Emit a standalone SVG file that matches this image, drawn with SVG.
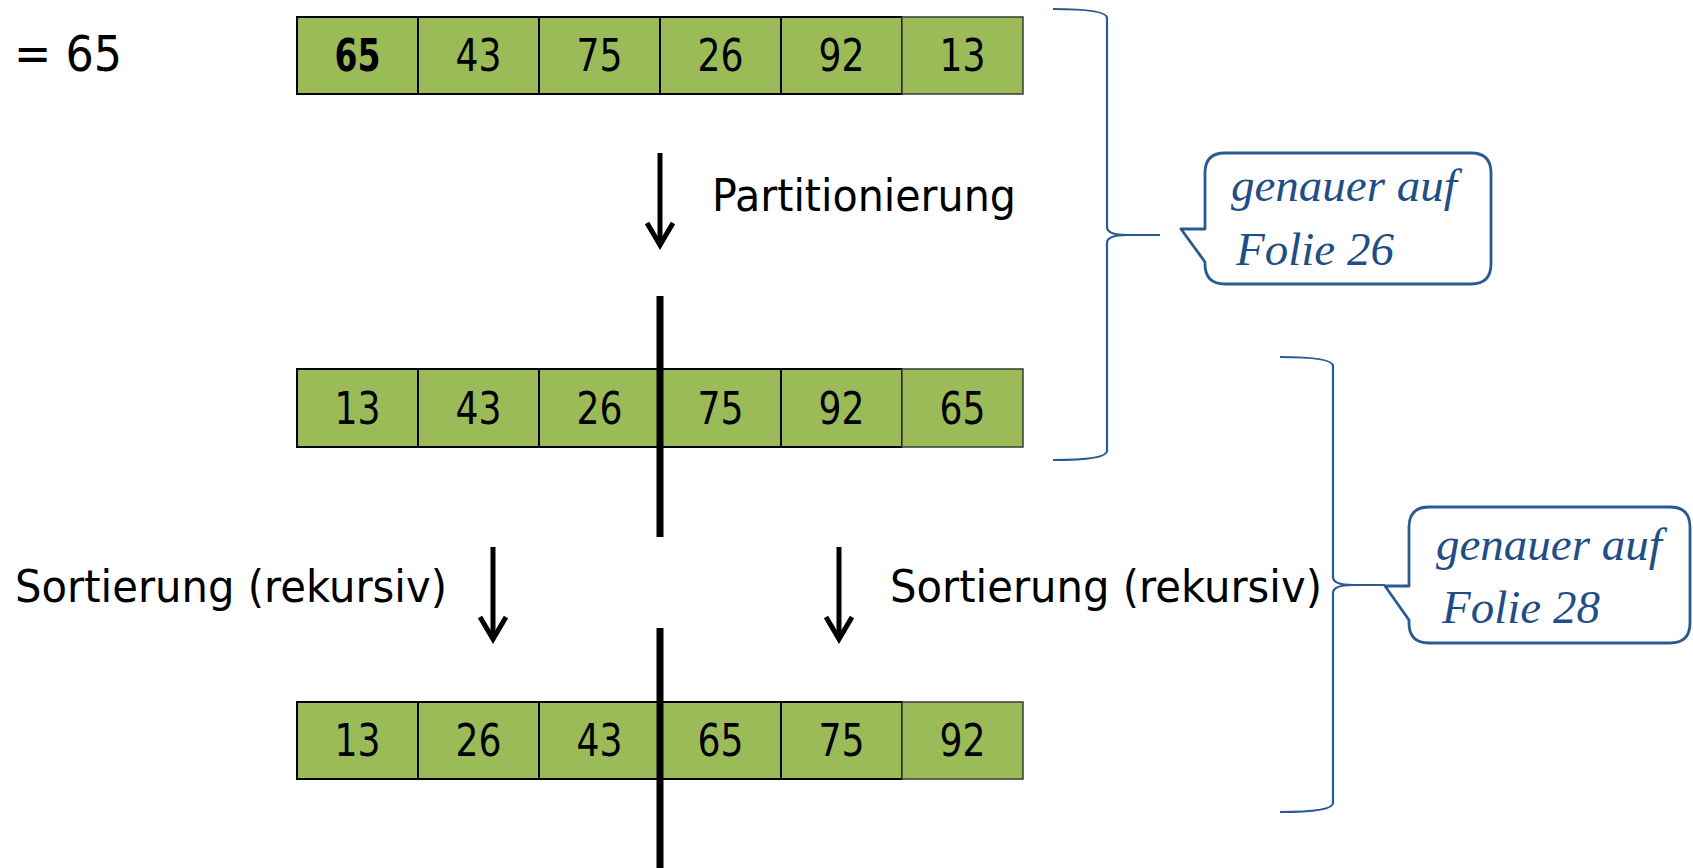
<svg xmlns="http://www.w3.org/2000/svg" width="1693" height="868" viewBox="0 0 1693 868">
<style>
  .cell { fill: #9BBB59; stroke: #000; stroke-width: 2; }
  .cell-last { fill: #9BBB59; stroke: #3a3a3a; stroke-width: 1.5; }
  .num { font-family: "DejaVu Sans", sans-serif; font-size: 44px; fill: #000; text-anchor: middle; }
  .bold { font-weight: bold; }
  .lbl { font-family: "DejaVu Sans", sans-serif; font-size: 45px; fill: #000; }
  .sep { stroke: #000; stroke-width: 7; }
  .arrow { fill: none; stroke: #000; stroke-width: 5; stroke-linejoin: miter; }
  .brace { fill: none; stroke: #2A5A92; stroke-width: 2.2; }
  .callout { fill: #fff; stroke: #2A5A92; stroke-width: 2.8; stroke-linejoin: round; }
  .note { font-family: "Liberation Serif", serif; font-style: italic; font-size: 47px; fill: #1F4E86; }
</style>
<rect width="1693" height="868" fill="#fff"/>

<g id="pivot-label">
  <text x="14" y="71" class="lbl" style="font-size:50px" textLength="108" lengthAdjust="spacingAndGlyphs">= 65</text>
</g>

<g id="row-initial">
  <rect class="cell" x="297" y="17" width="121" height="77"/>
  <rect class="cell" x="418" y="17" width="121" height="77"/>
  <rect class="cell" x="539" y="17" width="121" height="77"/>
  <rect class="cell" x="660" y="17" width="121" height="77"/>
  <rect class="cell" x="781" y="17" width="121" height="77"/>
  <rect class="cell-last" x="902" y="17" width="121" height="77"/>
  <text class="num bold" x="357.5" y="71" textLength="46" lengthAdjust="spacingAndGlyphs">65</text>
  <text class="num" x="478.5" y="71" textLength="46" lengthAdjust="spacingAndGlyphs">43</text>
  <text class="num" x="599.5" y="71" textLength="46" lengthAdjust="spacingAndGlyphs">75</text>
  <text class="num" x="720.5" y="71" textLength="46" lengthAdjust="spacingAndGlyphs">26</text>
  <text class="num" x="841.5" y="71" textLength="46" lengthAdjust="spacingAndGlyphs">92</text>
  <text class="num" x="962.5" y="71" textLength="46" lengthAdjust="spacingAndGlyphs">13</text>
</g>

<g id="row-partitioned">
  <rect class="cell" x="297" y="369" width="121" height="78"/>
  <rect class="cell" x="418" y="369" width="121" height="78"/>
  <rect class="cell" x="539" y="369" width="121" height="78"/>
  <rect class="cell" x="660" y="369" width="121" height="78"/>
  <rect class="cell" x="781" y="369" width="121" height="78"/>
  <rect class="cell-last" x="902" y="369" width="121" height="78"/>
  <text class="num" x="357.5" y="424" textLength="46" lengthAdjust="spacingAndGlyphs">13</text>
  <text class="num" x="478.5" y="424" textLength="46" lengthAdjust="spacingAndGlyphs">43</text>
  <text class="num" x="599.5" y="424" textLength="46" lengthAdjust="spacingAndGlyphs">26</text>
  <text class="num" x="720.5" y="424" textLength="46" lengthAdjust="spacingAndGlyphs">75</text>
  <text class="num" x="841.5" y="424" textLength="46" lengthAdjust="spacingAndGlyphs">92</text>
  <text class="num" x="962.5" y="424" textLength="46" lengthAdjust="spacingAndGlyphs">65</text>
</g>

<g id="row-sorted">
  <rect class="cell" x="297" y="702" width="121" height="77"/>
  <rect class="cell" x="418" y="702" width="121" height="77"/>
  <rect class="cell" x="539" y="702" width="121" height="77"/>
  <rect class="cell" x="660" y="702" width="121" height="77"/>
  <rect class="cell" x="781" y="702" width="121" height="77"/>
  <rect class="cell-last" x="902" y="702" width="121" height="77"/>
  <text class="num" x="357.5" y="756" textLength="46" lengthAdjust="spacingAndGlyphs">13</text>
  <text class="num" x="478.5" y="756" textLength="46" lengthAdjust="spacingAndGlyphs">26</text>
  <text class="num" x="599.5" y="756" textLength="46" lengthAdjust="spacingAndGlyphs">43</text>
  <text class="num" x="720.5" y="756" textLength="46" lengthAdjust="spacingAndGlyphs">65</text>
  <text class="num" x="841.5" y="756" textLength="46" lengthAdjust="spacingAndGlyphs">75</text>
  <text class="num" x="962.5" y="756" textLength="46" lengthAdjust="spacingAndGlyphs">92</text>
</g>

<g id="separators">
  <line class="sep" x1="660" y1="296" x2="660" y2="537"/>
  <line class="sep" x1="660" y1="628" x2="660" y2="868"/>
</g>

<g id="connectors">
  <g id="arrow-partition">
    <line class="arrow" x1="660" y1="153" x2="660" y2="243"/>
    <polyline class="arrow" points="647,223 660,245 673,223"/>
  </g>
  <g id="arrow-sort-left">
    <line class="arrow" x1="493" y1="547" x2="493" y2="637"/>
    <polyline class="arrow" points="480,617 493,639 506,617"/>
  </g>
  <g id="arrow-sort-right">
    <line class="arrow" x1="839" y1="547" x2="839" y2="637"/>
    <polyline class="arrow" points="826,617 839,639 852,617"/>
  </g>
</g>

<g id="label-partitionierung">
  <text class="lbl" x="712" y="211" textLength="304" lengthAdjust="spacingAndGlyphs">Partitionierung</text>
</g>
<g id="label-sort-left">
  <text class="lbl" x="15" y="602" textLength="432" lengthAdjust="spacingAndGlyphs">Sortierung (rekursiv)</text>
</g>
<g id="label-sort-right">
  <text class="lbl" x="890" y="602" textLength="432" lengthAdjust="spacingAndGlyphs">Sortierung (rekursiv)</text>
</g>

<g id="brace-1">
  <path class="brace" d="M1053,9 Q1107,9 1107,18 V227 Q1107,235 1127,235 H1160 M1127,235 Q1107,235 1107,243 V451 Q1107,460 1053,460"/>
</g>
<g id="brace-2">
  <path class="brace" d="M1280,357 Q1333,357 1333,366 V577 Q1333,585 1353,585 H1385 M1353,585 Q1333,585 1333,593 V803 Q1333,812 1280,812"/>
</g>

<g id="callout-1">
  <path class="callout" d="M1225,153 H1471 Q1491,153 1491,173 V264 Q1491,284 1471,284 H1225 Q1205,284 1205,264 V262 L1181,229 H1205 V173 Q1205,153 1225,153 Z"/>
  <text class="note" x="1231" y="201">genauer auf</text>
  <text class="note" x="1236" y="265">Folie 26</text>
</g>
<g id="callout-2">
  <path class="callout" d="M1429,507 H1670 Q1690,507 1690,527 V623 Q1690,643 1670,643 H1429 Q1409,643 1409,623 V620 L1385,586 H1409 V527 Q1409,507 1429,507 Z"/>
  <text class="note" x="1436" y="560">genauer auf</text>
  <text class="note" x="1442" y="623">Folie 28</text>
</g>
</svg>
